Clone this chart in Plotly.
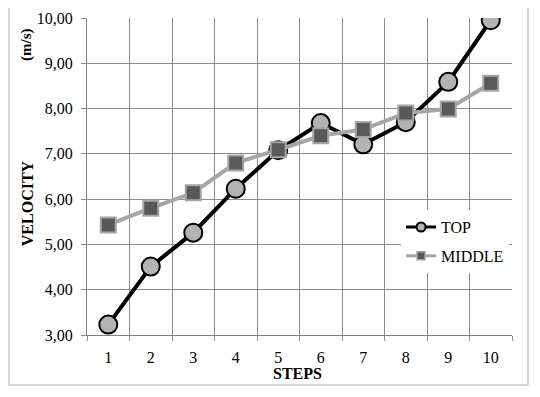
import plotly.graph_objects as go

steps = [1, 2, 3, 4, 5, 6, 7, 8, 9, 10]
top = [3.23, 4.51, 5.26, 6.23, 7.08, 7.68, 7.21, 7.70, 8.59, 9.95]
middle = [5.43, 5.80, 6.14, 6.80, 7.09, 7.40, 7.54, 7.90, 7.99, 8.56]
y_ticks = [3, 4, 5, 6, 7, 8, 9, 10]

FONT = "Liberation Serif"

fig = go.Figure()
fig.add_trace(go.Scatter(
    x=steps, y=top, name="TOP", mode="lines+markers", showlegend=False,
    line=dict(color="black", width=4),
    marker=dict(symbol="circle", size=18, color="#b3b3b3",
                line=dict(color="black", width=2)),
))
fig.add_trace(go.Scatter(
    x=steps, y=middle, name="MIDDLE", mode="lines+markers", showlegend=False,
    line=dict(color="#a6a6a6", width=4),
    marker=dict(symbol="square", size=15, color="#595959",
                line=dict(color="#a6a6a6", width=2)),
))
# legend-only entries with smaller symbols
fig.add_trace(go.Scatter(
    x=[None], y=[None], name="TOP", mode="lines+markers", legendgroup="a",
    line=dict(color="black", width=3),
    marker=dict(symbol="circle", size=9, color="#b3b3b3",
                line=dict(color="black", width=2)),
))
fig.add_trace(go.Scatter(
    x=[None], y=[None], name="MIDDLE", mode="lines+markers", legendgroup="b",
    line=dict(color="#a6a6a6", width=3),
    marker=dict(symbol="square", size=8, color="#595959",
                line=dict(color="#a6a6a6", width=1.5)),
))

fig.update_layout(
    width=532, height=389,
    margin=dict(l=79, r=28, t=10, b=62, autoexpand=False),
    paper_bgcolor="white", plot_bgcolor="white",
    separators=",.",
    font=dict(family=FONT, size=16, color="black"),
    showlegend=True,
    legend=dict(x=0.739, y=0.394, xanchor="left", yanchor="top",
                bgcolor="white", font=dict(family=FONT, size=16),
                itemwidth=30, tracegroupgap=5),
    xaxis=dict(
        range=[0.5, 10.5], tickvals=steps, showgrid=False, automargin=False,
        ticks="", zeroline=False, ticklabelstandoff=8,
        showline=True, linecolor="#808080", linewidth=1,
        minor=dict(tickvals=[i + 0.5 for i in range(0, 11)], showgrid=True,
                   gridcolor="#8c8c8c", gridwidth=1, ticks="outside",
                   ticklen=5, tickcolor="#8c8c8c"),
        tickfont=dict(family=FONT, size=16),
    ),
    yaxis=dict(
        range=[3, 10], tickvals=y_ticks, tickformat=".2f", automargin=False,
        showgrid=True, gridcolor="#8c8c8c", gridwidth=1,
        ticks="outside", ticklen=5, tickcolor="#8c8c8c", ticklabelstandoff=5,
        zeroline=False, showline=True, linecolor="#808080", linewidth=1,
        tickfont=dict(family=FONT, size=16),
    ),
    shapes=[dict(type="rect", xref="paper", yref="paper",
                 x0=-0.1835, x1=1.0376, y0=-0.158, y1=1.0347,
                 line=dict(color="#c8c8c8", width=1.5), layer="below")],
    annotations=[
        dict(text="<b>VELOCITY</b>", xref="paper", yref="paper",
             x=-0.141, y=0.416, xanchor="center", yanchor="middle",
             textangle=-90, showarrow=False,
             font=dict(family=FONT, size=16)),
        dict(text="<b>(m/s)</b>", xref="paper", yref="paper",
             x=-0.141, y=0.915, xanchor="center", yanchor="middle",
             textangle=-90, showarrow=False,
             font=dict(family=FONT, size=15)),
        dict(text="<b>STEPS</b>", xref="paper", yref="paper",
             x=0.496, y=-0.123, xanchor="center", yanchor="middle",
             showarrow=False,
             font=dict(family=FONT, size=16)),
    ],
)

fig.write_html("out.html")
